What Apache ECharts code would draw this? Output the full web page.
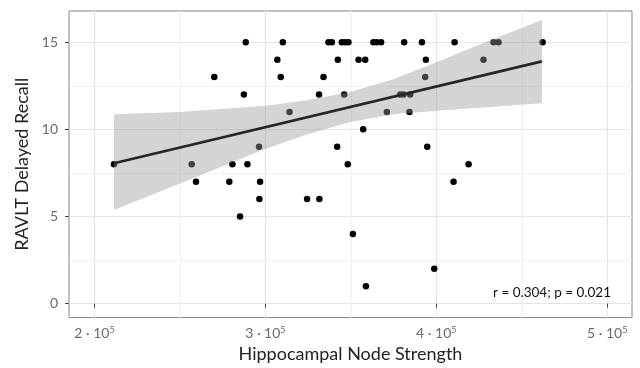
<!DOCTYPE html>
<html><head><meta charset="utf-8">
<script src="https://cdn.jsdelivr.net/npm/echarts@6/dist/echarts.min.js"></script>
<style>html,body{margin:0;padding:0;background:#fff}#c{width:640px;height:368px}</style>
</head><body><div id="c"></div>
<script>
// ---- data ----
const nodeStrength = [211400, 256900, 259400, 270100, 278900, 280700, 285200, 287400, 288500, 289500,
  296300, 296900, 296500, 307000, 309000, 310200, 314100, 324400, 331600, 331400,
  334000, 336900, 338900, 342400, 342000, 344700, 346100, 346700, 348200, 348600,
  351200, 354500, 357200, 358400, 358800, 363200, 365200, 367700, 371100, 378900,
  380800, 381200, 384300, 384700, 391600, 393900, 393500, 394700, 398800, 410100,
  410700, 418900, 427600, 433500, 436400, 462200];
const recall = [8, 8, 7, 13, 7, 8, 5, 12, 15, 8,
  9, 7, 6, 14, 13, 15, 11, 6, 6, 12,
  13, 15, 15, 14, 9, 15, 12, 15, 8, 15,
  4, 14, 10, 14, 1, 15, 15, 15, 11, 12,
  12, 15, 11, 12, 15, 14, 13, 9, 2, 7,
  15, 8, 14, 15, 15, 15];
const fitX = [211400, 461800];
const fitY = [8.05, 13.90];
const bandX = [211400, 250100, 300200, 324200, 349600, 374800, 400400, 427500, 461800];
const bandLow = [5.38, 6.90, 8.89, 9.71, 10.42, 10.87, 11.07, 11.25, 11.50];
const bandHigh = [10.87, 11.00, 11.35, 11.67, 12.14, 12.87, 13.87, 14.95, 16.28];
const xTicks = [200000, 300000, 400000, 500000];
const xMinorTicks = [250000, 350000, 450000];
const xTickMantissa = ['2', '3', '4', '5'];
const xTickExponent = '5';
const yTicks = [0, 5, 10, 15];
const yMinorTicks = [2.5, 7.5, 12.5];
const xTitle = 'Hippocampal Node Strength';
const yTitle = 'RAVLT Delayed Recall';
const annotation = 'r = 0.304; p = 0.021';

// ---- chart ----
const FONT = 'Lato';
const X_MIN = 185100, X_MAX = 514500, Y_MIN = -0.8, Y_MAX = 16.79;
const chart = echarts.init(document.getElementById('c'), null, {renderer: 'canvas'});

const points = nodeStrength.map((v, i) => [v, recall[i]]);
const fitData = fitX.map((v, i) => [v, fitY[i]]);
const bandData = bandX.map((v, i) => [v, bandLow[i], bandHigh[i]]);

const majorLine = {color: '#e4e4e4', width: 1.2};
const minorLine = {color: '#f1f1f1', width: 1};

const option = {
  animation: false,
  grid: {left: 69, right: 8, top: 11, bottom: 49, show: true, borderColor: '#858585', borderWidth: 1, backgroundColor: 'transparent'},
  xAxis: [
    {type: 'value', min: X_MIN, max: X_MAX, axisLine: {show: false},
      axisTick: {show: true, customValues: xTicks, length: 4, lineStyle: {color: '#444', width: 1}},
      axisLabel: {customValues: xTicks, margin: 8,
        formatter: v => '{b|' + xTickMantissa[xTicks.indexOf(v)] + ' · 10}{s|' + xTickExponent + '}',
        rich: {b: {fontFamily: FONT, fontSize: 14, color: '#6b6b6b'},
               s: {fontFamily: FONT, fontSize: 9, color: '#6b6b6b', verticalAlign: 'top', padding: [0, 0, 6, 0]}}},
      splitLine: {show: true, lineStyle: majorLine},
      name: xTitle, nameLocation: 'middle', nameGap: 27,
      nameTextStyle: {fontFamily: FONT, fontSize: 18, color: '#222'}},
    {type: 'value', min: X_MIN, max: X_MAX, position: 'bottom', axisLine: {show: false},
      axisTick: {show: false, customValues: xMinorTicks}, axisLabel: {show: false, customValues: xMinorTicks},
      splitLine: {show: true, lineStyle: minorLine}}
  ],
  yAxis: [
    {type: 'value', min: Y_MIN, max: Y_MAX, axisLine: {show: false},
      axisTick: {show: true, customValues: yTicks, length: 4, lineStyle: {color: '#444', width: 1}},
      axisLabel: {customValues: yTicks, margin: 11, fontFamily: FONT, fontSize: 14, color: '#6b6b6b'},
      splitLine: {show: true, lineStyle: majorLine},
      name: yTitle, nameLocation: 'middle', nameGap: 30, nameRotate: 90,
      nameTextStyle: {fontFamily: FONT, fontSize: 18, color: '#222'}},
    {type: 'value', min: Y_MIN, max: Y_MAX, position: 'left', axisLine: {show: false},
      axisTick: {show: false, customValues: yMinorTicks}, axisLabel: {show: false, customValues: yMinorTicks},
      splitLine: {show: true, lineStyle: minorLine}}
  ],
  series: [
    {type: 'scatter', data: points, symbolSize: 6.5, itemStyle: {color: '#000', opacity: 1}, z: 3},
    {type: 'custom', data: bandData, z: 4, silent: true,
      renderItem: function (params, api) {
        if (params.dataIndex !== 0) return null;
        const lo = [], hi = [];
        for (let i = 0; i < bandData.length; i++) {
          lo.push(api.coord([bandData[i][0], bandData[i][1]]));
          hi.push(api.coord([bandData[i][0], bandData[i][2]]));
        }
        return {type: 'polygon', shape: {points: lo.concat(hi.reverse())},
          style: {fill: 'rgba(153,153,153,0.42)', stroke: 'none'}};
      }},
    {type: 'line', data: fitData, showSymbol: false, z: 5,
      lineStyle: {color: '#262626', width: 2.6}}
  ],
  graphic: [
    {type: 'text', right: 29, top: 286, z: 10,
      style: {text: annotation, fontFamily: FONT, fontSize: 13.5, fill: '#111'}}
  ]
};
chart.setOption(option);
</script>
</body></html>
